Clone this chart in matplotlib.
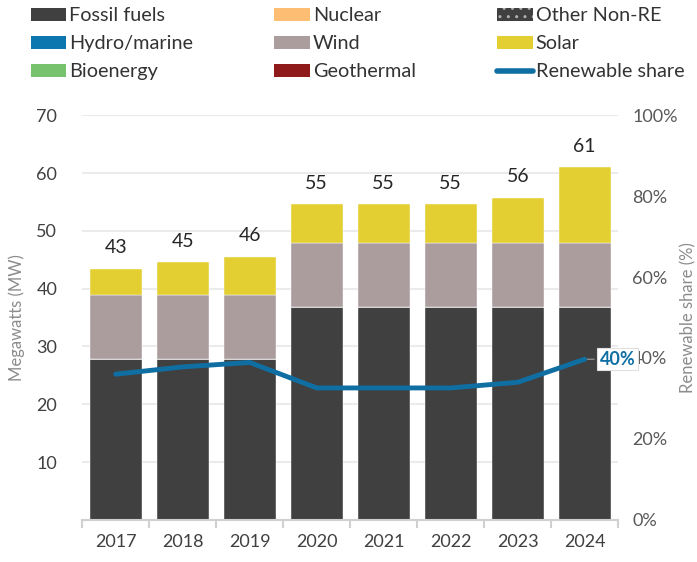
import matplotlib.pyplot as plt
from matplotlib.patches import Patch
from matplotlib.lines import Line2D

plt.rcParams['font.family'] = ['Lato', 'DejaVu Sans']

years = ['2017', '2018', '2019', '2020', '2021', '2022', '2023', '2024']
fossil = [27.8, 27.8, 27.8, 36.8, 36.8, 36.8, 36.8, 36.8]
nuclear = [0, 0, 0, 0, 0, 0, 0, 0]
other_non_re = [0, 0, 0, 0, 0, 0, 0, 0]
hydro = [0, 0, 0, 0, 0, 0, 0, 0]
wind = [11.1, 11.1, 11.1, 11.1, 11.1, 11.1, 11.1, 11.1]
solar = [4.5, 5.7, 6.6, 6.7, 6.7, 6.7, 7.8, 13.1]
bioenergy = [0, 0, 0, 0, 0, 0, 0, 0]
geothermal = [0, 0, 0, 0, 0, 0, 0, 0]
re_share = [36.0, 37.8, 38.9, 32.6, 32.6, 32.6, 34.0, 39.7]

c_fossil = '#404040'
c_nuclear = '#FDBE73'
c_hydro = '#0C77AE'
c_wind = '#AB9C9E'
c_solar = '#E4CF33'
c_bio = '#77C36D'
c_geo = '#8E1A1A'
c_line = '#0F6FA3'
c_grey = '#595959'

fig = plt.figure(figsize=(6.97, 5.62), dpi=100)
ax = fig.add_axes([0.118, 0.075, 0.769, 0.72])

x = list(range(len(years)))
series = [
    (fossil, c_fossil, None),
    (nuclear, c_nuclear, None),
    (other_non_re, c_fossil, '..'),
    (hydro, c_hydro, None),
    (bioenergy, c_bio, None),
    (geothermal, c_geo, None),
    (wind, c_wind, None),
    (solar, c_solar, None),
]
bottom = [0] * len(years)
for vals, col, hatch in series:
    ax.bar(x, vals, width=0.78, bottom=bottom, color=col, hatch=hatch,
           edgecolor='white', linewidth=0.3, zorder=2)
    bottom = [b + v for b, v in zip(bottom, vals)]

for xi, tot in zip(x, bottom):
    ax.annotate(f'{tot:.0f}', (xi, tot), xytext=(0, 9), textcoords='offset points',
                ha='center', va='bottom', fontsize=14, color='#262626')

ax.set_ylim(0, 70)
ax.set_xlim(-0.5, len(years) - 0.5)
ax.set_yticks([10, 20, 30, 40, 50, 60, 70])
ax.grid(axis='y', color='#EBEBEB', linewidth=1.5, zorder=0)
ax.set_axisbelow(True)
ax.tick_params(axis='y', length=0, labelsize=13, labelcolor='#404040', pad=18)
ax.set_xticks(x)
ax.set_xticklabels(years)
ax.tick_params(axis='x', which='major', length=0, labelsize=13, labelcolor='#404040', pad=10)
ax.set_xticks([i - 0.5 for i in range(len(years) + 1)], minor=True)
ax.tick_params(axis='x', which='minor', length=6, color='#D0D0D0', width=1.5)
for s in ['top', 'right', 'left']:
    ax.spines[s].set_visible(False)
ax.spines['bottom'].set_color('#D0D0D0')
ax.spines['bottom'].set_linewidth(1.5)
ax.set_ylabel('Megawatts (MW)', fontsize=12, color='#8C8C8C', labelpad=8)

ax2 = ax.twinx()
ax2.plot(x, re_share, color=c_line, linewidth=3.5, solid_capstyle='round', zorder=5)
ax2.set_ylim(0, 100)
ax2.set_yticks([0, 20, 40, 60, 80, 100])
ax2.set_yticklabels([f'{v}%' for v in [0, 20, 40, 60, 80, 100]])
ax2.tick_params(axis='y', length=0, labelsize=13, labelcolor=c_grey, pad=10)
for s in ax2.spines.values():
    s.set_visible(False)
ax2.set_ylabel('Renewable share (%)', fontsize=12, color='#8C8C8C', labelpad=2)

ax2.annotate(f'{re_share[-1]:.0f}%', (x[-1], re_share[-1]), xytext=(11, 0),
             textcoords='offset points', ha='left', va='center', fontsize=13,
             fontweight='bold', color=c_line,
             bbox=dict(boxstyle='square,pad=0.15', fc='white', ec='#E0E0E0', lw=0.8),
             arrowprops=dict(arrowstyle='-', color='#A0A0A0', lw=0.8), zorder=6)

handles = [
    Patch(facecolor=c_fossil, label='Fossil fuels'),
    Patch(facecolor=c_hydro, label='Hydro/marine'),
    Patch(facecolor=c_bio, label='Bioenergy'),
    Patch(facecolor=c_nuclear, label='Nuclear'),
    Patch(facecolor=c_wind, label='Wind'),
    Patch(facecolor=c_geo, label='Geothermal'),
    Patch(facecolor=c_fossil, hatch='..', edgecolor='#B0B0B0', lw=0, label='Other Non-RE'),
    Patch(facecolor=c_solar, label='Solar'),
    Line2D([0], [0], color=c_line, lw=4, solid_capstyle='round', label='Renewable share'),
]
fig.legend(handles=handles, ncol=3, loc='upper left', bbox_to_anchor=(0.027, 1.008, 0.972, 0.0),
           mode='expand', frameon=False, fontsize=14.3, handlelength=1.8, handleheight=0.6,
           handletextpad=0.15, labelspacing=0.55, borderaxespad=0.2, labelcolor='#333333')

fig.savefig('out.png', dpi=100)
